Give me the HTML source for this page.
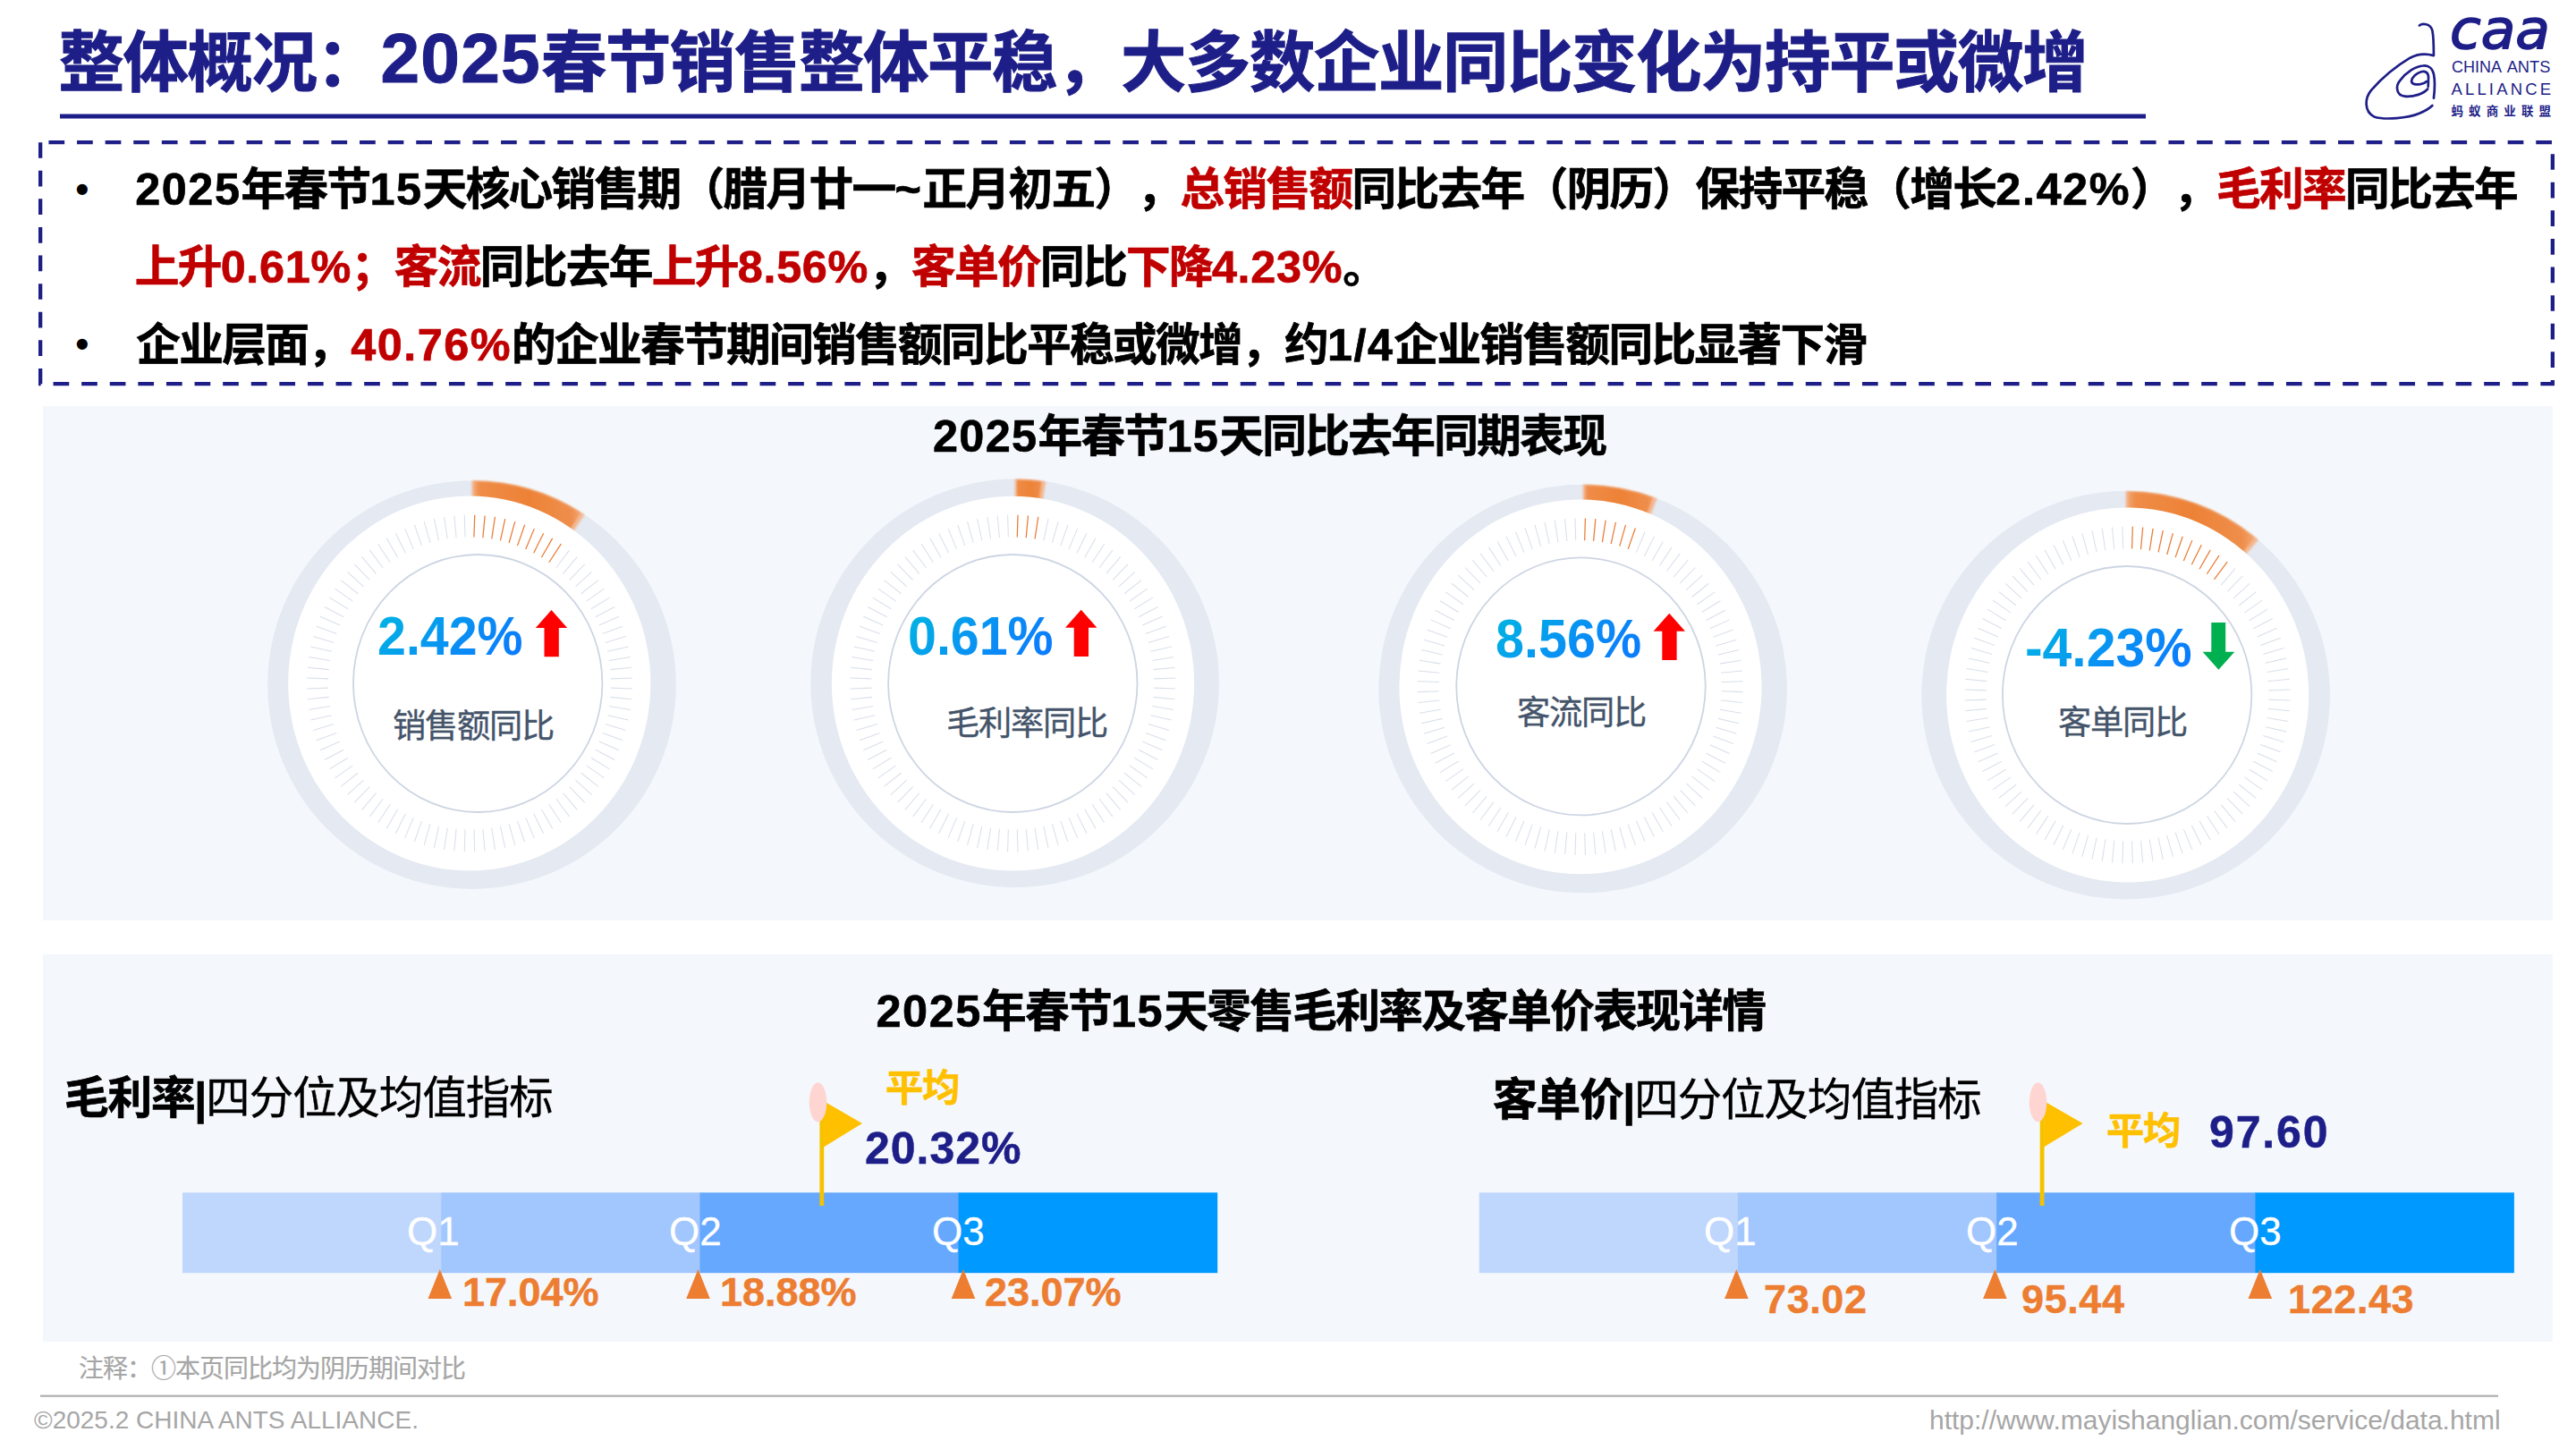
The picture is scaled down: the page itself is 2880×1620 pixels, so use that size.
<!DOCTYPE html>
<html lang="zh-CN"><head><meta charset="utf-8"><title>整体概况</title>
<style>
html,body{margin:0;padding:0;background:#fff;}
body{width:2880px;height:1620px;position:relative;overflow:hidden;font-family:'Liberation Sans','Noto Sans CJK SC',sans-serif;text-spacing-trim:space-all;}
.a{position:absolute;white-space:nowrap;line-height:1;}
.b{font-weight:bold;}
.r{color:#C00000;}
.d{font-size:1.05em;letter-spacing:0.033em;}
.d2{font-size:1.05em;letter-spacing:0.0145em;}
.d3{font-size:1.05em;letter-spacing:0.037em;}
.d72{font-size:1.09em;letter-spacing:0.018em;}
.panel{position:absolute;background:#F4F8FD;}
.grad{background:linear-gradient(135deg,#00B6E2 0%,#0A8CF5 60%,#0A78FF 100%);-webkit-background-clip:text;background-clip:text;color:transparent;}
</style></head>
<body>
<div class="panel" style="left:48px;top:453.5px;width:2806px;height:575.5px"></div>
<div class="panel" style="left:48px;top:1067px;width:2806px;height:432.6px"></div>
<svg width="2880" height="1620" viewBox="0 0 2880 1620" style="position:absolute;left:0;top:0">
<rect x="67" y="127.5" width="2332" height="5" fill="#1E1E88"/>
<path d="M45.15,159.15 V429.15 H2853.85 V159.15 Z" fill="none" stroke="#1E1E88" stroke-width="4.3" stroke-dasharray="17.7 13.9"/>
<rect x="45" y="1559.6" width="2748" height="2.2" fill="#B0B0B0"/>
<defs><radialGradient id="og" cx="0.5" cy="0.5" r="0.5"><stop offset="0" stop-color="#EE843A"/><stop offset="1" stop-color="#F19A5C"/></radialGradient><linearGradient id="vg" x1="0" y1="0" x2="1" y2="1"><stop offset="0" stop-color="#00B7E0"/><stop offset="1" stop-color="#0A7DFF"/></linearGradient><filter id="bl" x="-0.2" y="-0.2" width="1.4" height="1.4"><feGaussianBlur stdDeviation="1.2"/></filter></defs>
<circle cx="527.5" cy="765.6" r="228.3" fill="#E4E9F2"/>
<path d="M527.5,537.3 A228.3,228.3 0 0 1 653.51,575.22 L628.67,612.75 A183.3,183.3 0 0 0 527.5,582.3 Z" fill="#F4B891" filter="url(#bl)"/>
<linearGradient id="ag527" gradientUnits="userSpaceOnUse" x1="527.5" y1="0" x2="653.51" y2="0"><stop offset="0" stop-color="#F4B284"/><stop offset="0.07" stop-color="#EF8C48"/><stop offset="0.5" stop-color="#ED8236"/><stop offset="0.88" stop-color="#EF8E4C"/><stop offset="1" stop-color="#F4AE80"/></linearGradient>
<path d="M529.88,538.11 A227.5,227.5 0 0 1 649.07,573.30 L625.45,610.66 A183.3,183.3 0 0 0 529.42,582.31 Z" fill="url(#ag527)" filter="url(#bl)"/>
<ellipse cx="524.8" cy="764.0" rx="202.6" ry="209.4" fill="#FFFFFF"/>
<path d="M621.84,634.79L636.55,615.16M629.49,641.33L645.36,622.70M636.72,648.37L653.69,630.80M643.52,655.86L661.52,639.43M649.84,663.77L668.81,648.55M655.68,672.08L675.53,658.12M661.00,680.76L681.66,668.11M665.78,689.76L687.16,678.48M670.01,699.05L692.03,689.19M673.66,708.61L696.24,700.19M676.73,718.38L699.77,711.45M679.19,728.33L702.62,722.91M681.05,738.42L704.76,734.53M682.30,748.61L706.19,746.27M682.92,758.86L706.91,758.08M682.92,769.14L706.91,769.92M682.30,779.39L706.19,781.73M681.05,789.58L704.76,793.47M679.19,799.67L702.62,805.09M676.73,809.62L699.77,816.55M673.66,819.39L696.24,827.81M670.01,828.95L692.03,838.81M665.78,838.24L687.16,849.52M661.00,847.24L681.66,859.89M655.68,855.92L675.53,869.88M649.84,864.23L668.81,879.45M643.52,872.14L661.52,888.57M636.72,879.63L653.69,897.20M629.49,886.67L645.36,905.30M621.84,893.21L636.55,912.84M613.81,899.25L627.30,919.80M605.43,904.76L617.65,926.14M596.73,909.71L607.63,931.84M587.75,914.08L597.28,936.88M578.52,917.86L586.65,941.23M569.08,921.04L575.78,944.89M559.47,923.59L564.70,947.83M549.72,925.52L553.47,950.05M539.87,926.80L542.13,951.53M529.96,927.45L530.72,952.28M520.04,927.45L519.28,952.28M510.13,926.80L507.87,951.53M500.28,925.52L496.53,950.05M490.53,923.59L485.30,947.83M480.92,921.04L474.22,944.89M471.48,917.86L463.35,941.23M462.25,914.08L452.72,936.88M453.27,909.71L442.37,931.84M444.57,904.76L432.35,926.14M436.19,899.25L422.70,919.80M428.16,893.21L413.45,912.84M420.51,886.67L404.64,905.30M413.28,879.63L396.31,897.20M406.48,872.14L388.48,888.57M400.16,864.23L381.19,879.45M394.32,855.92L374.47,869.88M389.00,847.24L368.34,859.89M384.22,838.24L362.84,849.52M379.99,828.95L357.97,838.81M376.34,819.39L353.76,827.81M373.27,809.62L350.23,816.55M370.81,799.67L347.38,805.09M368.95,789.58L345.24,793.47M367.70,779.39L343.81,781.73M367.08,769.14L343.09,769.92M367.08,758.86L343.09,758.08M367.70,748.61L343.81,746.27M368.95,738.42L345.24,734.53M370.81,728.33L347.38,722.91M373.27,718.38L350.23,711.45M376.34,708.61L353.76,700.19M379.99,699.05L357.97,689.19M384.22,689.76L362.84,678.48M389.00,680.76L368.34,668.11M394.32,672.08L374.47,658.12M400.16,663.77L381.19,648.55M406.48,655.86L388.48,639.43M413.28,648.37L396.31,630.80M420.51,641.33L404.64,622.70M428.16,634.79L413.45,615.16M436.19,628.75L422.70,608.20M444.57,623.24L432.35,601.86M453.27,618.29L442.37,596.16M462.25,613.92L452.72,591.12M471.48,610.14L463.35,586.77M480.92,606.96L474.22,583.11M490.53,604.41L485.30,580.17M500.28,602.48L496.53,577.95M510.13,601.20L507.87,576.47M520.04,600.55L519.28,575.72" stroke="#D9DFEA" stroke-width="1.05" fill="none"/>
<path d="M529.96,600.55L530.72,575.72M539.87,601.20L542.13,576.47M549.72,602.48L553.47,577.95M559.47,604.41L564.70,580.17M569.08,606.96L575.78,583.11M578.52,610.14L586.65,586.77M587.75,613.92L597.28,591.12M596.73,618.29L607.63,596.16M605.43,623.24L617.65,601.86M613.81,628.75L627.30,608.20" stroke="#EA7B34" stroke-width="1.25" fill="none"/>
<ellipse cx="534.2" cy="764.0" rx="139.2" ry="144.0" fill="none" stroke="#CDD5E3" stroke-width="1.8"/>
<circle cx="1134.65" cy="763.9" r="228.3" fill="#E4E9F2"/>
<path d="M1134.65,535.5999999999999 A228.3,228.3 0 0 1 1169.18,538.23 L1162.38,582.71 A183.3,183.3 0 0 0 1134.65,580.5999999999999 Z" fill="#F4B891" filter="url(#bl)"/>
<linearGradient id="ag1134" gradientUnits="userSpaceOnUse" x1="1134.65" y1="0" x2="1169.18" y2="0"><stop offset="0" stop-color="#F4B284"/><stop offset="0.07" stop-color="#EF8C48"/><stop offset="0.5" stop-color="#ED8236"/><stop offset="0.88" stop-color="#EF8E4C"/><stop offset="1" stop-color="#F4AE80"/></linearGradient>
<path d="M1137.03,536.41 A227.5,227.5 0 0 1 1164.34,538.35 L1158.58,582.17 A183.3,183.3 0 0 0 1136.57,580.61 Z" fill="url(#ag1134)" filter="url(#bl)"/>
<ellipse cx="1132.5" cy="764.2" rx="202.6" ry="209.4" fill="#FFFFFF"/>
<path d="M1166.77,604.41L1172.00,580.17M1176.38,606.96L1183.08,583.11M1185.82,610.14L1193.95,586.77M1195.05,613.92L1204.58,591.12M1204.03,618.29L1214.93,596.16M1212.73,623.24L1224.95,601.86M1221.11,628.75L1234.60,608.20M1229.14,634.79L1243.85,615.16M1236.79,641.33L1252.66,622.70M1244.02,648.37L1260.99,630.80M1250.82,655.86L1268.82,639.43M1257.14,663.77L1276.11,648.55M1262.98,672.08L1282.83,658.12M1268.30,680.76L1288.96,668.11M1273.08,689.76L1294.46,678.48M1277.31,699.05L1299.33,689.19M1280.96,708.61L1303.54,700.19M1284.03,718.38L1307.07,711.45M1286.49,728.33L1309.92,722.91M1288.35,738.42L1312.06,734.53M1289.60,748.61L1313.49,746.27M1290.22,758.86L1314.21,758.08M1290.22,769.14L1314.21,769.92M1289.60,779.39L1313.49,781.73M1288.35,789.58L1312.06,793.47M1286.49,799.67L1309.92,805.09M1284.03,809.62L1307.07,816.55M1280.96,819.39L1303.54,827.81M1277.31,828.95L1299.33,838.81M1273.08,838.24L1294.46,849.52M1268.30,847.24L1288.96,859.89M1262.98,855.92L1282.83,869.88M1257.14,864.23L1276.11,879.45M1250.82,872.14L1268.82,888.57M1244.02,879.63L1260.99,897.20M1236.79,886.67L1252.66,905.30M1229.14,893.21L1243.85,912.84M1221.11,899.25L1234.60,919.80M1212.73,904.76L1224.95,926.14M1204.03,909.71L1214.93,931.84M1195.05,914.08L1204.58,936.88M1185.82,917.86L1193.95,941.23M1176.38,921.04L1183.08,944.89M1166.77,923.59L1172.00,947.83M1157.02,925.52L1160.77,950.05M1147.17,926.80L1149.43,951.53M1137.26,927.45L1138.02,952.28M1127.34,927.45L1126.58,952.28M1117.43,926.80L1115.17,951.53M1107.58,925.52L1103.83,950.05M1097.83,923.59L1092.60,947.83M1088.22,921.04L1081.52,944.89M1078.78,917.86L1070.65,941.23M1069.55,914.08L1060.02,936.88M1060.57,909.71L1049.67,931.84M1051.87,904.76L1039.65,926.14M1043.49,899.25L1030.00,919.80M1035.46,893.21L1020.75,912.84M1027.81,886.67L1011.94,905.30M1020.58,879.63L1003.61,897.20M1013.78,872.14L995.78,888.57M1007.46,864.23L988.49,879.45M1001.62,855.92L981.77,869.88M996.30,847.24L975.64,859.89M991.52,838.24L970.14,849.52M987.29,828.95L965.27,838.81M983.64,819.39L961.06,827.81M980.57,809.62L957.53,816.55M978.11,799.67L954.68,805.09M976.25,789.58L952.54,793.47M975.00,779.39L951.11,781.73M974.38,769.14L950.39,769.92M974.38,758.86L950.39,758.08M975.00,748.61L951.11,746.27M976.25,738.42L952.54,734.53M978.11,728.33L954.68,722.91M980.57,718.38L957.53,711.45M983.64,708.61L961.06,700.19M987.29,699.05L965.27,689.19M991.52,689.76L970.14,678.48M996.30,680.76L975.64,668.11M1001.62,672.08L981.77,658.12M1007.46,663.77L988.49,648.55M1013.78,655.86L995.78,639.43M1020.58,648.37L1003.61,630.80M1027.81,641.33L1011.94,622.70M1035.46,634.79L1020.75,615.16M1043.49,628.75L1030.00,608.20M1051.87,623.24L1039.65,601.86M1060.57,618.29L1049.67,596.16M1069.55,613.92L1060.02,591.12M1078.78,610.14L1070.65,586.77M1088.22,606.96L1081.52,583.11M1097.83,604.41L1092.60,580.17M1107.58,602.48L1103.83,577.95M1117.43,601.20L1115.17,576.47M1127.34,600.55L1126.58,575.72" stroke="#D9DFEA" stroke-width="1.05" fill="none"/>
<path d="M1137.26,600.55L1138.02,575.72M1147.17,601.20L1149.43,576.47M1157.02,602.48L1160.77,577.95" stroke="#EA7B34" stroke-width="1.25" fill="none"/>
<ellipse cx="1132.3" cy="764.0" rx="139.2" ry="144.0" fill="none" stroke="#CDD5E3" stroke-width="1.8"/>
<circle cx="1769.65" cy="770.0" r="228.3" fill="#E4E9F2"/>
<path d="M1769.65,541.7 A228.3,228.3 0 0 1 1852.58,557.29 L1836.23,599.22 A183.3,183.3 0 0 0 1769.65,586.7 Z" fill="#F4B891" filter="url(#bl)"/>
<linearGradient id="ag1769" gradientUnits="userSpaceOnUse" x1="1769.65" y1="0" x2="1852.58" y2="0"><stop offset="0" stop-color="#F4B284"/><stop offset="0.07" stop-color="#EF8C48"/><stop offset="0.5" stop-color="#ED8236"/><stop offset="0.88" stop-color="#EF8E4C"/><stop offset="1" stop-color="#F4AE80"/></linearGradient>
<path d="M1772.03,542.51 A227.5,227.5 0 0 1 1847.83,556.36 L1832.64,597.86 A183.3,183.3 0 0 0 1771.57,586.71 Z" fill="url(#ag1769)" filter="url(#bl)"/>
<ellipse cx="1767.0" cy="767.8" rx="202.6" ry="209.4" fill="#FFFFFF"/>
<path d="M1829.45,617.62L1838.98,594.82M1838.43,621.99L1849.33,599.86M1847.13,626.94L1859.35,605.56M1855.51,632.45L1869.00,611.90M1863.54,638.49L1878.25,618.86M1871.19,645.03L1887.06,626.40M1878.42,652.07L1895.39,634.50M1885.22,659.56L1903.22,643.13M1891.54,667.47L1910.51,652.25M1897.38,675.78L1917.23,661.82M1902.70,684.46L1923.36,671.81M1907.48,693.46L1928.86,682.18M1911.71,702.75L1933.73,692.89M1915.36,712.31L1937.94,703.89M1918.43,722.08L1941.47,715.15M1920.89,732.03L1944.32,726.61M1922.75,742.12L1946.46,738.23M1924.00,752.31L1947.89,749.97M1924.62,762.56L1948.61,761.78M1924.62,772.84L1948.61,773.62M1924.00,783.09L1947.89,785.43M1922.75,793.28L1946.46,797.17M1920.89,803.37L1944.32,808.79M1918.43,813.32L1941.47,820.25M1915.36,823.09L1937.94,831.51M1911.71,832.65L1933.73,842.51M1907.48,841.94L1928.86,853.22M1902.70,850.94L1923.36,863.59M1897.38,859.62L1917.23,873.58M1891.54,867.93L1910.51,883.15M1885.22,875.84L1903.22,892.27M1878.42,883.33L1895.39,900.90M1871.19,890.37L1887.06,909.00M1863.54,896.91L1878.25,916.54M1855.51,902.95L1869.00,923.50M1847.13,908.46L1859.35,929.84M1838.43,913.41L1849.33,935.54M1829.45,917.78L1838.98,940.58M1820.22,921.56L1828.35,944.93M1810.78,924.74L1817.48,948.59M1801.17,927.29L1806.40,951.53M1791.42,929.22L1795.17,953.75M1781.57,930.50L1783.83,955.23M1771.66,931.15L1772.42,955.98M1761.74,931.15L1760.98,955.98M1751.83,930.50L1749.57,955.23M1741.98,929.22L1738.23,953.75M1732.23,927.29L1727.00,951.53M1722.62,924.74L1715.92,948.59M1713.18,921.56L1705.05,944.93M1703.95,917.78L1694.42,940.58M1694.97,913.41L1684.07,935.54M1686.27,908.46L1674.05,929.84M1677.89,902.95L1664.40,923.50M1669.86,896.91L1655.15,916.54M1662.21,890.37L1646.34,909.00M1654.98,883.33L1638.01,900.90M1648.18,875.84L1630.18,892.27M1641.86,867.93L1622.89,883.15M1636.02,859.62L1616.17,873.58M1630.70,850.94L1610.04,863.59M1625.92,841.94L1604.54,853.22M1621.69,832.65L1599.67,842.51M1618.04,823.09L1595.46,831.51M1614.97,813.32L1591.93,820.25M1612.51,803.37L1589.08,808.79M1610.65,793.28L1586.94,797.17M1609.40,783.09L1585.51,785.43M1608.78,772.84L1584.79,773.62M1608.78,762.56L1584.79,761.78M1609.40,752.31L1585.51,749.97M1610.65,742.12L1586.94,738.23M1612.51,732.03L1589.08,726.61M1614.97,722.08L1591.93,715.15M1618.04,712.31L1595.46,703.89M1621.69,702.75L1599.67,692.89M1625.92,693.46L1604.54,682.18M1630.70,684.46L1610.04,671.81M1636.02,675.78L1616.17,661.82M1641.86,667.47L1622.89,652.25M1648.18,659.56L1630.18,643.13M1654.98,652.07L1638.01,634.50M1662.21,645.03L1646.34,626.40M1669.86,638.49L1655.15,618.86M1677.89,632.45L1664.40,611.90M1686.27,626.94L1674.05,605.56M1694.97,621.99L1684.07,599.86M1703.95,617.62L1694.42,594.82M1713.18,613.84L1705.05,590.47M1722.62,610.66L1715.92,586.81M1732.23,608.11L1727.00,583.87M1741.98,606.18L1738.23,581.65M1751.83,604.90L1749.57,580.17M1761.74,604.25L1760.98,579.42" stroke="#D9DFEA" stroke-width="1.05" fill="none"/>
<path d="M1771.66,604.25L1772.42,579.42M1781.57,604.90L1783.83,580.17M1791.42,606.18L1795.17,581.65M1801.17,608.11L1806.40,583.87M1810.78,610.66L1817.48,586.81M1820.22,613.84L1828.35,590.47" stroke="#EA7B34" stroke-width="1.25" fill="none"/>
<ellipse cx="1767.5" cy="767.4" rx="139.2" ry="144.0" fill="none" stroke="#CDD5E3" stroke-width="1.8"/>
<circle cx="2376.65" cy="777.2" r="228.3" fill="#E4E9F2"/>
<path d="M2376.65,548.9000000000001 A228.3,228.3 0 0 1 2524.92,603.60 L2495.69,637.82 A183.3,183.3 0 0 0 2376.65,593.9000000000001 Z" fill="#F4B891" filter="url(#bl)"/>
<linearGradient id="ag2376" gradientUnits="userSpaceOnUse" x1="2376.65" y1="0" x2="2524.92" y2="0"><stop offset="0" stop-color="#F4B284"/><stop offset="0.07" stop-color="#EF8C48"/><stop offset="0.5" stop-color="#ED8236"/><stop offset="0.88" stop-color="#EF8E4C"/><stop offset="1" stop-color="#F4AE80"/></linearGradient>
<path d="M2379.03,549.71 A227.5,227.5 0 0 1 2520.74,601.15 L2492.75,635.36 A183.3,183.3 0 0 0 2378.57,593.91 Z" fill="url(#ag2376)" filter="url(#bl)"/>
<ellipse cx="2378.7" cy="777.0" rx="202.6" ry="209.4" fill="#FFFFFF"/>
<path d="M2483.09,654.33L2498.96,635.70M2490.32,661.37L2507.29,643.80M2497.12,668.86L2515.12,652.43M2503.44,676.77L2522.41,661.55M2509.28,685.08L2529.13,671.12M2514.60,693.76L2535.26,681.11M2519.38,702.76L2540.76,691.48M2523.61,712.05L2545.63,702.19M2527.26,721.61L2549.84,713.19M2530.33,731.38L2553.37,724.45M2532.79,741.33L2556.22,735.91M2534.65,751.42L2558.36,747.53M2535.90,761.61L2559.79,759.27M2536.52,771.86L2560.51,771.08M2536.52,782.14L2560.51,782.92M2535.90,792.39L2559.79,794.73M2534.65,802.58L2558.36,806.47M2532.79,812.67L2556.22,818.09M2530.33,822.62L2553.37,829.55M2527.26,832.39L2549.84,840.81M2523.61,841.95L2545.63,851.81M2519.38,851.24L2540.76,862.52M2514.60,860.24L2535.26,872.89M2509.28,868.92L2529.13,882.88M2503.44,877.23L2522.41,892.45M2497.12,885.14L2515.12,901.57M2490.32,892.63L2507.29,910.20M2483.09,899.67L2498.96,918.30M2475.44,906.21L2490.15,925.84M2467.41,912.25L2480.90,932.80M2459.03,917.76L2471.25,939.14M2450.33,922.71L2461.23,944.84M2441.35,927.08L2450.88,949.88M2432.12,930.86L2440.25,954.23M2422.68,934.04L2429.38,957.89M2413.07,936.59L2418.30,960.83M2403.32,938.52L2407.07,963.05M2393.47,939.80L2395.73,964.53M2383.56,940.45L2384.32,965.28M2373.64,940.45L2372.88,965.28M2363.73,939.80L2361.47,964.53M2353.88,938.52L2350.13,963.05M2344.13,936.59L2338.90,960.83M2334.52,934.04L2327.82,957.89M2325.08,930.86L2316.95,954.23M2315.85,927.08L2306.32,949.88M2306.87,922.71L2295.97,944.84M2298.17,917.76L2285.95,939.14M2289.79,912.25L2276.30,932.80M2281.76,906.21L2267.05,925.84M2274.11,899.67L2258.24,918.30M2266.88,892.63L2249.91,910.20M2260.08,885.14L2242.08,901.57M2253.76,877.23L2234.79,892.45M2247.92,868.92L2228.07,882.88M2242.60,860.24L2221.94,872.89M2237.82,851.24L2216.44,862.52M2233.59,841.95L2211.57,851.81M2229.94,832.39L2207.36,840.81M2226.87,822.62L2203.83,829.55M2224.41,812.67L2200.98,818.09M2222.55,802.58L2198.84,806.47M2221.30,792.39L2197.41,794.73M2220.68,782.14L2196.69,782.92M2220.68,771.86L2196.69,771.08M2221.30,761.61L2197.41,759.27M2222.55,751.42L2198.84,747.53M2224.41,741.33L2200.98,735.91M2226.87,731.38L2203.83,724.45M2229.94,721.61L2207.36,713.19M2233.59,712.05L2211.57,702.19M2237.82,702.76L2216.44,691.48M2242.60,693.76L2221.94,681.11M2247.92,685.08L2228.07,671.12M2253.76,676.77L2234.79,661.55M2260.08,668.86L2242.08,652.43M2266.88,661.37L2249.91,643.80M2274.11,654.33L2258.24,635.70M2281.76,647.79L2267.05,628.16M2289.79,641.75L2276.30,621.20M2298.17,636.24L2285.95,614.86M2306.87,631.29L2295.97,609.16M2315.85,626.92L2306.32,604.12M2325.08,623.14L2316.95,599.77M2334.52,619.96L2327.82,596.11M2344.13,617.41L2338.90,593.17M2353.88,615.48L2350.13,590.95M2363.73,614.20L2361.47,589.47M2373.64,613.55L2372.88,588.72" stroke="#D9DFEA" stroke-width="1.05" fill="none"/>
<path d="M2383.56,613.55L2384.32,588.72M2393.47,614.20L2395.73,589.47M2403.32,615.48L2407.07,590.95M2413.07,617.41L2418.30,593.17M2422.68,619.96L2429.38,596.11M2432.12,623.14L2440.25,599.77M2441.35,626.92L2450.88,604.12M2450.33,631.29L2461.23,609.16M2459.03,636.24L2471.25,614.86M2467.41,641.75L2480.90,621.20M2475.44,647.79L2490.15,628.16" stroke="#EA7B34" stroke-width="1.25" fill="none"/>
<ellipse cx="2378.1" cy="777.0" rx="139.2" ry="144.0" fill="none" stroke="#CDD5E3" stroke-width="1.8"/>
<path d="M616.5,681.9 L634.2,701.9 L624.8,701.9 L624.8,734.3 L608.5,734.3 L608.5,701.9 L598.8,701.9 Z" fill="#FF0000"/>
<path d="M1208.7,681.6999999999999 L1226.4,701.6999999999999 L1217.0,701.6999999999999 L1217.0,734.0999999999999 L1200.7,734.0999999999999 L1200.7,701.6999999999999 L1191.0,701.6999999999999 Z" fill="#FF0000"/>
<path d="M1866.3,685.6999999999999 L1884.0,705.6999999999999 L1874.6,705.6999999999999 L1874.6,738.0999999999999 L1858.3,738.0999999999999 L1858.3,705.6999999999999 L1848.6,705.6999999999999 Z" fill="#FF0000"/>
<path d="M2472.3,696 L2488.2,696 L2488.2,728.7 L2498.3,728.7 L2480.4,748.7 L2462.6,728.7 L2472.3,728.7 Z" fill="#00B050"/>
<rect x="204.0" y="1333.3" width="289.6" height="89.9" fill="#BFD7FD"/>
<rect x="493.2" y="1333.3" width="289.6" height="89.9" fill="#A2C6FE"/>
<rect x="782.4" y="1333.3" width="289.6" height="89.9" fill="#66A8FE"/>
<rect x="1071.6" y="1333.3" width="289.6" height="89.9" fill="#0099FF"/>
<rect x="1653.7" y="1333.3" width="289.6" height="89.9" fill="#BFD7FD"/>
<rect x="1942.9" y="1333.3" width="289.6" height="89.9" fill="#A2C6FE"/>
<rect x="2232.1" y="1333.3" width="289.6" height="89.9" fill="#66A8FE"/>
<rect x="2521.3" y="1333.3" width="289.6" height="89.9" fill="#0099FF"/>
<path d="M491.8,1419 L505.1,1452 L478.5,1452 Z" fill="#ED7D31"/>
<path d="M780.5,1419 L793.8,1452 L767.2,1452 Z" fill="#ED7D31"/>
<path d="M1077.0,1419 L1090.3,1452 L1063.7,1452 Z" fill="#ED7D31"/>
<path d="M1941.4,1419 L1954.7,1452 L1928.1000000000001,1452 Z" fill="#ED7D31"/>
<path d="M2230.4,1419 L2243.7000000000003,1452 L2217.1,1452 Z" fill="#ED7D31"/>
<path d="M2526.8,1419 L2540.1000000000004,1452 L2513.5,1452 Z" fill="#ED7D31"/>
<rect x="916.4" y="1240" width="4.8" height="108" fill="#F5C200"/>
<path d="M920.8,1231 L964,1256 L920.8,1282.4 Z" fill="#FFC000"/>
<ellipse cx="914.5" cy="1232.3" rx="9.8" ry="22" fill="#FFD5D2"/>
<rect x="2280.7" y="1240" width="4.8" height="108" fill="#F5C200"/>
<path d="M2285.1,1231 L2328.6,1256 L2285.1,1282.4 Z" fill="#FFC000"/>
<ellipse cx="2278.5" cy="1232.3" rx="9.8" ry="22" fill="#FFD5D2"/>
<path d="M2704.89,28.47C2707.99,25.88 2717.31,25.88 2719.38,34.16C2720.93,41.41 2720.93,51.76 2720.93,62.11C2715.24,60.56 2704.89,59.01 2694.53,64.70C2677.97,74.53 2661.41,89.03 2651.06,100.93C2643.81,109.73 2642.77,124.22 2654.16,130.43C2666.58,134.58 2692.46,131.99 2704.89,126.81C2712.13,123.71 2716.27,121.12 2719.38,118.01" fill="none" stroke="#1E1E88" stroke-width="2.7" stroke-linecap="round" stroke-linejoin="round"/>
<path d="M2720.93,109.73C2721.97,101.45 2722.48,90.06 2720.93,82.82C2719.38,75.57 2714.20,72.98 2709.03,73.50C2700.75,74.02 2690.39,80.75 2683.15,90.06C2677.97,96.27 2679.01,106.63 2688.32,107.66C2698.67,108.70 2710.06,104.55 2714.20,99.38" fill="none" stroke="#1E1E88" stroke-width="2.7" stroke-linecap="round" stroke-linejoin="round"/>
<path d="M2714.72,96.79L2715.03,85.92C2714.72,80.75 2711.10,79.19 2706.96,80.23C2701.78,81.78 2696.60,85.92 2696.09,90.58C2696.09,94.72 2701.78,94.72 2705.92,94.20C2709.03,93.69 2711.61,92.65 2712.65,91.10" fill="none" stroke="#1E1E88" stroke-width="2.7" stroke-linecap="round" stroke-linejoin="round"/>
<text x="2739" y="53.5" font-family="DejaVu Sans" font-style="oblique" font-size="60" fill="#1E1E88" stroke="#1E1E88" stroke-width="1.6" stroke-linejoin="round" textLength="112" lengthAdjust="spacingAndGlyphs">caa</text>
<text x="2741" y="80.6" font-family="Liberation Sans" font-size="18.5" fill="#1E1E88" textLength="56" lengthAdjust="spacingAndGlyphs">CHINA</text>
<text x="2802.7" y="80.6" font-family="Liberation Sans" font-size="18.5" fill="#1E1E88" textLength="48.7" lengthAdjust="spacingAndGlyphs">ANTS</text>
<text x="2740.5" y="105.6" font-family="Liberation Sans" font-size="18.5" fill="#1E1E88" textLength="111.5" lengthAdjust="spacing">ALLIANCE</text>
<text x="2740.5" y="128.5" font-family="Noto Sans CJK SC" font-weight="bold" font-size="13.5" fill="#1E1E88" textLength="111.5" lengthAdjust="spacing">蚂蚁商业联盟</text>
</svg>
<div id="title" class="a b" style="left:65.5px;top:29.5px;font-size:72px;color:#1E1E88;font-size:73.44px;letter-spacing:-1.44px;-webkit-text-stroke:1.0px currentColor;">整体概况：<span style="font-size:78.5px;letter-spacing:1.2px;position:relative;top:-4px">2025</span>春节销售整体平稳，大多数企业同比变化为持平或微增</div>
<div id="bul1" class="a b" style="left:84.5px;top:190.5px;font-size:42px;">•</div>
<div id="bul2" class="a b" style="left:84.5px;top:363.5px;font-size:42px;">•</div>
<div id="l1" class="a b" style="left:151.2px;top:187px;font-size:48px;font-size:49.68px;letter-spacing:-1.68px;-webkit-text-stroke:0.7px currentColor;"><span style="font-size:50.4px;letter-spacing:1.55px">2025</span>年春节<span style="font-size:50.4px;letter-spacing:1.55px">15</span>天核心销售期（腊月廿一<span style="font-size:50.4px;letter-spacing:1.55px">~</span>正月初五），<span class="r">总销售额</span>同比去年（阴历）保持平稳（增长<span style="font-size:50.4px;letter-spacing:1.55px">2.42%</span>），<span class="r">毛利率</span>同比去年</div>
<div id="l2" class="a b" style="left:150.7px;top:274px;font-size:48px;font-size:49.68px;letter-spacing:-1.68px;-webkit-text-stroke:0.7px currentColor;"><span class="r">上升<span style="font-size:50.4px;letter-spacing:0.66px">0.61%</span>；客流</span>同比去年<span class="r">上升<span style="font-size:50.4px;letter-spacing:0.66px">8.56%</span></span>，<span class="r">客单价</span>同比<span class="r">下降<span style="font-size:50.4px;letter-spacing:0.66px">4.23%</span></span>。</div>
<div id="l3" class="a b" style="left:152.2px;top:361px;font-size:48px;font-size:49.68px;letter-spacing:-1.68px;-webkit-text-stroke:0.7px currentColor;">企业层面，<span class="r"><span style="font-size:50.4px;letter-spacing:1.5px">40.76%</span></span>的企业春节期间销售额同比平稳或微增，约<span style="font-size:50.4px;letter-spacing:1.5px">1/4</span>企业销售额同比显著下滑</div>
<div id="pt1" class="a b" style="left:1043px;top:463px;font-size:48px;font-size:49.68px;letter-spacing:-1.68px;-webkit-text-stroke:0.7px currentColor;"><span style="font-size:50.4px;letter-spacing:1.35px">2025</span>年春节<span style="font-size:50.4px;letter-spacing:1.35px">15</span>天同比去年同期表现</div>
<div id="v1" class="a b grad" style="left:422px;top:680px;font-size:62px;transform:scaleX(0.925);transform-origin:0 0">2.42%</div>
<div id="v2" class="a b grad" style="left:1015px;top:680px;font-size:62px;transform:scaleX(0.925);transform-origin:0 0">0.61%</div>
<div id="v3" class="a b grad" style="left:1672px;top:683px;font-size:62px;transform:scaleX(0.928);transform-origin:0 0">8.56%</div>
<div id="v4" class="a b grad" style="left:2264px;top:693px;font-size:62px;transform:scaleX(0.95);transform-origin:0 0">-4.23%</div>
<div id="c1" class="a" style="left:439px;top:794px;font-size:36px;color:#44546A;font-size:37.26px;letter-spacing:-1.26px;-webkit-text-stroke:0.35px currentColor;">销售额同比</div>
<div id="c2" class="a" style="left:1058px;top:791px;font-size:36px;color:#44546A;font-size:37.26px;letter-spacing:-1.26px;-webkit-text-stroke:0.35px currentColor;">毛利率同比</div>
<div id="c3" class="a" style="left:1696px;top:779px;font-size:36px;color:#44546A;font-size:37.26px;letter-spacing:-1.26px;-webkit-text-stroke:0.35px currentColor;">客流同比</div>
<div id="c4" class="a" style="left:2301px;top:790px;font-size:36px;color:#44546A;font-size:37.26px;letter-spacing:-1.26px;-webkit-text-stroke:0.35px currentColor;">客单同比</div>
<div id="pt2" class="a b" style="left:979.5px;top:1106px;font-size:48px;font-size:49.68px;letter-spacing:-1.68px;-webkit-text-stroke:0.7px currentColor;"><span style="font-size:50.4px;letter-spacing:1.6px">2025</span>年春节<span style="font-size:50.4px;letter-spacing:1.6px">15</span>天零售毛利率及客单价表现详情</div>
<div id="s1" class="a" style="left:72px;top:1204px;font-size:48px;font-size:49.68px;letter-spacing:-1.23px;-webkit-text-stroke:0.3px currentColor;"><span class="b" style="-webkit-text-stroke:0.7px currentColor">毛利率|</span>四分位及均值指标</div>
<div id="s2" class="a" style="left:1669px;top:1206px;font-size:48px;font-size:49.68px;letter-spacing:-1.23px;-webkit-text-stroke:0.3px currentColor;"><span class="b" style="-webkit-text-stroke:0.7px currentColor">客单价|</span>四分位及均值指标</div>
<div id="avg1" class="a b" style="left:990px;top:1196px;font-size:41px;color:#FFC000;font-size:42.43px;letter-spacing:-1.43px;-webkit-text-stroke:0.6px currentColor;">平均</div>
<div id="avgv1" class="a b" style="left:967px;top:1259px;font-size:50px;color:#1E1E88;letter-spacing:1px;-webkit-text-stroke:0.5px currentColor">20.32%</div>
<div id="avg2" class="a b" style="left:2355px;top:1244px;font-size:41px;color:#FFC000;font-size:42.43px;letter-spacing:-1.43px;-webkit-text-stroke:0.6px currentColor;">平均</div>
<div id="avgv2" class="a b" style="left:2470px;top:1241px;font-size:50px;color:#1E1E88;letter-spacing:1.85px;-webkit-text-stroke:0.5px currentColor">97.60</div>
<div id="q0" class="a" style="left:455px;top:1355px;font-size:44px;color:#fff;-webkit-text-stroke:0.3px currentColor">Q1</div>
<div id="q1" class="a" style="left:748px;top:1355px;font-size:44px;color:#fff;-webkit-text-stroke:0.3px currentColor">Q2</div>
<div id="q2" class="a" style="left:1042px;top:1355px;font-size:44px;color:#fff;-webkit-text-stroke:0.3px currentColor">Q3</div>
<div id="q3" class="a" style="left:1905px;top:1355px;font-size:44px;color:#fff;-webkit-text-stroke:0.3px currentColor">Q1</div>
<div id="q4" class="a" style="left:2198px;top:1355px;font-size:44px;color:#fff;-webkit-text-stroke:0.3px currentColor">Q2</div>
<div id="q5" class="a" style="left:2492px;top:1355px;font-size:44px;color:#fff;-webkit-text-stroke:0.3px currentColor">Q3</div>
<div id="o0" class="a b" style="left:517px;top:1422px;font-size:45px;color:#ED7D31;-webkit-text-stroke:0.5px currentColor">17.04%</div>
<div id="o1" class="a b" style="left:805px;top:1422px;font-size:45px;color:#ED7D31;-webkit-text-stroke:0.5px currentColor">18.88%</div>
<div id="o2" class="a b" style="left:1101px;top:1422px;font-size:45px;color:#ED7D31;-webkit-text-stroke:0.5px currentColor">23.07%</div>
<div id="o3" class="a b" style="left:1972px;top:1430px;font-size:45px;color:#ED7D31;-webkit-text-stroke:0.5px currentColor;letter-spacing:0.6px">73.02</div>
<div id="o4" class="a b" style="left:2260px;top:1430px;font-size:45px;color:#ED7D31;-webkit-text-stroke:0.5px currentColor;letter-spacing:0.6px">95.44</div>
<div id="o5" class="a b" style="left:2558px;top:1430px;font-size:45px;color:#ED7D31;-webkit-text-stroke:0.5px currentColor;letter-spacing:0.6px">122.43</div>
<div id="note" class="a" style="left:88px;top:1517px;font-size:27px;color:#A6A6A6;font-size:27.94px;letter-spacing:-0.94px;-webkit-text-stroke:0.2px currentColor;">注释：①本页同比均为阴历期间对比</div>
<div id="copy" class="a" style="left:38px;top:1574px;font-size:28px;color:#A6A6A6">©2025.2 CHINA ANTS ALLIANCE.</div>
<div id="url" class="a" style="left:2157px;top:1573px;font-size:30px;color:#A6A6A6">http://www.mayishanglian.com/service/data.html</div>
</body></html>
